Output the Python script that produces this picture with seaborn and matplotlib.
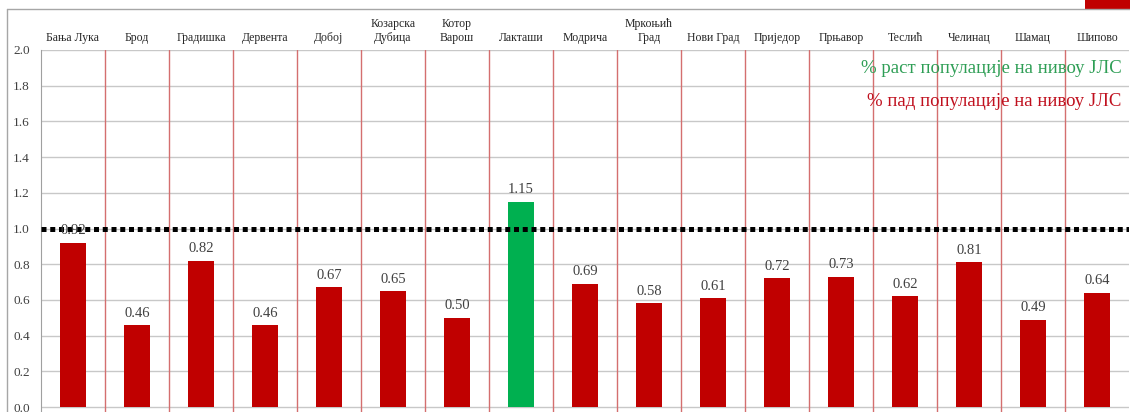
import matplotlib
matplotlib.use("Agg")
import matplotlib.pyplot as plt
from matplotlib.lines import Line2D
from matplotlib.patches import Rectangle
import seaborn as sns
import pandas as pd

municipalities = ["Бања Лука", "Брод", "Градишка", "Дервента", "Добој", "Козарска\nДубица",
                  "Котор\nВарош", "Лакташи", "Модрича", "Мркоњић\nГрад", "Нови Град",
                  "Приједор", "Прњавор", "Теслић", "Челинац", "Шамац", "Шипово"]
index_values = [0.92, 0.46, 0.82, 0.46, 0.67, 0.65, 0.50, 1.15, 0.69, 0.58, 0.61,
                0.72, 0.73, 0.62, 0.81, 0.49, 0.64]
reference_level = 1.0
legend_up = "% раст популације на нивоу ЈЛС"
legend_down = "% пад популације на нивоу ЈЛС"

RED = "#C00000"
GREEN = "#00B050"

sns.set_style("white")
plt.rcParams["font.family"] = ["Liberation Serif", "DejaVu Serif"]

df = pd.DataFrame({"opstina": municipalities, "vrijednost": index_values})
df["trend"] = ["rast" if v > reference_level else "pad" for v in index_values]

W, H = 1130, 412
fig = plt.figure(figsize=(W / 100, H / 100), dpi=100)
ax = fig.add_axes([41 / W, 0, 1088 / W, (H - 50) / H])

sns.barplot(data=df, x="opstina", y="vrijednost", hue="trend",
            palette={"rast": GREEN, "pad": RED}, width=0.4, saturation=1,
            legend=False, ax=ax, zorder=3, linewidth=0)

ax.set_xlim(-0.5, len(municipalities) - 0.5)
ax.set_ylim(-0.028, 2.0)
ax.set_yticks([i / 5 for i in range(11)])
ax.set_yticklabels([f"{i / 5:.1f}" for i in range(11)], fontsize=9.5, color="#404040")
ax.tick_params(axis="y", length=5, color="#A0A0A0", pad=3)
ax.set_xticks([])
ax.set_xlabel("")
ax.set_ylabel("")
for s in ["top", "right", "bottom"]:
    ax.spines[s].set_visible(False)
ax.spines["left"].set_color("#A0A0A0")

# horizontal grid
for i in range(11):
    ax.axhline(i / 5, color="#C8C8C8", lw=1, zorder=1)

# red separators between municipalities
for i in range(len(municipalities) - 1):
    ax.axvline(i + 0.5, color="#D46F6F", lw=1, zorder=1)

ax.axhline(reference_level, color="black", lw=3.6, linestyle=(0, (1, 0.75)),
           dash_capstyle="butt", zorder=4)

for i, (name, v) in enumerate(zip(municipalities, index_values)):
    ax.text(i, v + 0.03, f"{v:.2f}", ha="center", va="bottom", fontsize=10.5,
            color="#404040", zorder=5)
    ax.text(i, 2.035, name, ha="center", va="bottom", fontsize=8.5, color="#262626",
            linespacing=1.25, clip_on=False)

ax.text(16.38, 1.894, legend_up, ha="right", va="center", fontsize=13.5, color="#2E9E55")
ax.text(16.38, 1.714, legend_down, ha="right", va="center", fontsize=13.5, color="#C0101E")

# outer chart frame and corner tab
fig.add_artist(Line2D([7 / W, 1], [(H - 9) / H] * 2, color="#A6A6A6", lw=1))
fig.add_artist(Line2D([7 / W] * 2, [0, (H - 9) / H], color="#A6A6A6", lw=1))
fig.add_artist(Rectangle((1085 / W, (H - 9) / H), 45 / W, 9 / H, color=RED, lw=0))

fig.savefig("out.png", dpi=100)
